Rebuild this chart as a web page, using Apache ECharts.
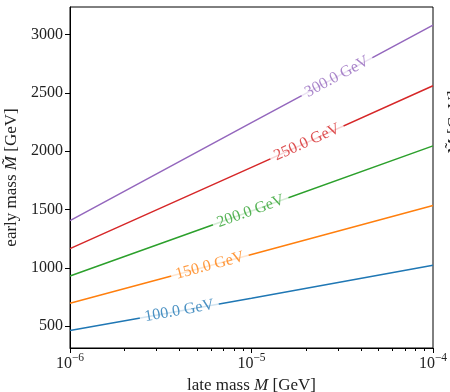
<!DOCTYPE html>
<html>
<head>
<meta charset="utf-8">
<script src="https://cdn.jsdelivr.net/npm/echarts@6/dist/echarts.min.js"></script>
<style>
  html, body { margin: 0; padding: 0; background: #fff; }
  #chart { width: 450px; height: 392px; }
</style>
</head>
<body>
<div id="chart"></div>
<script>
// late mass M [GeV] where the contour values were read
const lateMass = [1e-6, 1e-5, 1e-4];
// early mass for each contour level
const early100 = [463, 740, 1023];
const early150 = [697, 1116, 1535];
const early200 = [931, 1488, 2046];
const early250 = [1166, 1862, 2561];
const early300 = [1406, 2245, 3081];
const levelNames = ['100.0 GeV', '150.0 GeV', '200.0 GeV', '250.0 GeV', '300.0 GeV'];
// where the inline contour labels sit
const labelMass = [4.0e-6, 5.9e-6, 9.9e-6, 2.02e-5, 2.96e-5];
const labelEarly = [632, 1020, 1485, 2077, 2638];
// tick labels
const yTicks = [500, 1000, 1500, 2000, 2500, 3000];
const xTicks = [1e-6, 1e-5, 1e-4];
const xMinorTicks = [2e-6, 3e-6, 4e-6, 5e-6, 6e-6, 7e-6, 8e-6, 9e-6,
  2e-5, 3e-5, 4e-5, 5e-5, 6e-5, 7e-5, 8e-5, 9e-5];

const colors = ['#1f77b4', '#ff7f0e', '#2ca02c', '#d62728', '#9467bd'];
const curves = [early100, early150, early200, early250, early300];
const font = 'Liberation Serif';

const chart = echarts.init(document.getElementById('chart'));

const lineSeries = curves.map((ys, i) => ({
  type: 'line',
  name: levelNames[i],
  data: lateMass.map((x, j) => [x, ys[j]]),
  showSymbol: false,
  symbol: 'none',
  lineStyle: { color: colors[i], width: 1.5 },
  z: 2,
  animation: false
}));

const labelSeries = levelNames.map((txt, i) => ({
  type: 'scatter',
  data: [[labelMass[i], labelEarly[i]]],
  symbolSize: 1,
  itemStyle: { color: 'rgba(0,0,0,0)' },
  label: {
    show: true,
    position: 'inside',
    formatter: txt,
    color: colors[i],
    fontFamily: font,
    fontSize: 16,
    backgroundColor: '#fff',
    padding: [1, 5],
    rotate: 0
  },
  z: 5,
  animation: false
}));

function pow10Label(v) {
  const e = Math.round(Math.log10(v));
  return '{b|10}{s|' + (e < 0 ? '\u2212' + (-e) : e) + '}';
}

chart.setOption({
  animation: false,
  textStyle: { fontFamily: font },
  grid: {
    left: 70, right: 17, top: 7, bottom: 44,
    outerBoundsMode: 'none',
    containLabel: false,
    show: true, borderColor: '#000', borderWidth: 1, backgroundColor: '#fff'
  },
  xAxis: [{
    type: 'log',
    logBase: 10,
    min: 1e-6,
    max: 1e-4,
    name: '{n|late mass }{i|M}{n| [GeV]}',
    nameLocation: 'middle',
    nameGap: 22,
    nameTextStyle: {
      rich: {
        n: { fontFamily: font, fontSize: 17, color: '#222' },
        i: { fontFamily: font, fontSize: 17, fontStyle: 'italic', color: '#222' }
      }
    },
    axisLine: { lineStyle: { color: '#000', width: 1 } },
    axisTick: { inside: false, length: 5, lineStyle: { color: '#000' }, customValues: xTicks },
    axisLabel: {
      margin: 4,
      customValues: xTicks,
      formatter: pow10Label,
      rich: {
        b: { fontFamily: font, fontSize: 16, color: '#222', lineHeight: 20, verticalAlign: 'bottom' },
        s: { fontFamily: font, fontSize: 11.5, color: '#222', lineHeight: 12, verticalAlign: 'top' }
      }
    },
    splitLine: { show: false },
    minorTick: { show: false }
  }, {
    type: 'log',
    logBase: 10,
    min: 1e-6,
    max: 1e-4,
    position: 'bottom',
    axisLine: { show: false },
    axisTick: { inside: false, length: 3, lineStyle: { color: '#000' }, customValues: xMinorTicks },
    axisLabel: { show: false },
    splitLine: { show: false }
  }],
  yAxis: {
    type: 'value',
    min: 314,
    max: 3236,
    name: '{n|early mass }{i|M\u0303}{n| [GeV]}',
    nameLocation: 'middle',
    nameGap: 37,
    nameTextStyle: {
      rich: {
        n: { fontFamily: font, fontSize: 17, color: '#222' },
        i: { fontFamily: font, fontSize: 17, fontStyle: 'italic', color: '#222' }
      }
    },
    axisLine: { show: true, lineStyle: { color: '#000', width: 1 } },
    axisTick: { show: true, inside: false, length: 5, lineStyle: { color: '#000' }, customValues: yTicks },
    axisLabel: {
      margin: 7,
      customValues: yTicks,
      formatter: v => String(Math.round(v)),
      fontFamily: font,
      fontSize: 16,
      color: '#222'
    },
    splitLine: { show: false }
  },
  series: lineSeries.concat(labelSeries),
  graphic: [{
    // neighbouring panel's axis title, cut off at the right edge
    type: 'text',
    x: 463,
    y: 122,
    rotation: Math.PI / 2,
    style: {
      text: 'M\u0303 [GeV]',
      fontFamily: font,
      fontSize: 17,
      fill: '#222',
      align: 'center',
      verticalAlign: 'bottom'
    }
  }]
});

// rotate each inline label to follow its contour on screen
const rotated = labelSeries.map((s, i) => {
  const p0 = chart.convertToPixel({ gridIndex: 0 }, [lateMass[0], curves[i][0]]);
  const p1 = chart.convertToPixel({ gridIndex: 0 }, [lateMass[lateMass.length - 1], curves[i][curves[i].length - 1]]);
  const ang = Math.atan2(p0[1] - p1[1], p1[0] - p0[0]) * 180 / Math.PI;
  return { label: { rotate: ang } };
});
chart.setOption({ series: lineSeries.map(() => ({})).concat(rotated) });
</script>
</body>
</html>
